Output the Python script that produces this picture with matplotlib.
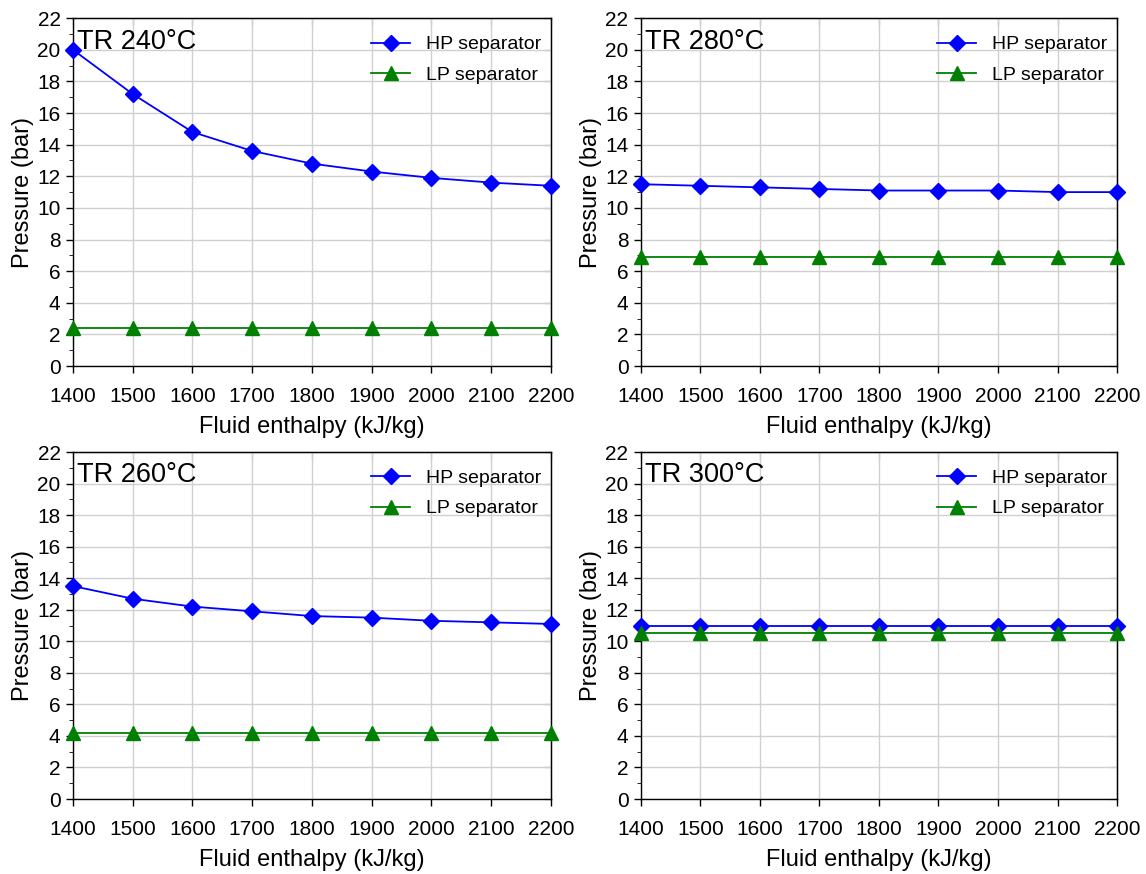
import numpy as np
import matplotlib.pyplot as plt
from matplotlib.ticker import MultipleLocator

plt.rcParams['font.family'] = ['Liberation Sans', 'DejaVu Sans']

# Данные
enthalpy = [1400, 1500, 1600, 1700, 1800, 1900, 2000, 2100, 2200]

hp_240 = [20.0, 17.2, 14.8, 13.6, 12.8, 12.3, 11.9, 11.6, 11.4]
lp_240 = [2.4, 2.4, 2.4, 2.4, 2.4, 2.4, 2.4, 2.4, 2.4]

hp_280 = [11.5, 11.4, 11.3, 11.2, 11.1, 11.1, 11.1, 11.0, 11.0]
lp_280 = [6.9, 6.9, 6.9, 6.9, 6.9, 6.9, 6.9, 6.9, 6.9]

hp_260 = [13.5, 12.7, 12.2, 11.9, 11.6, 11.5, 11.3, 11.2, 11.1]
lp_260 = [4.2, 4.2, 4.2, 4.2, 4.2, 4.2, 4.2, 4.2, 4.2]

hp_300 = [11.0, 11.0, 11.0, 11.0, 11.0, 11.0, 11.0, 11.0, 11.0]
lp_300 = [10.5, 10.5, 10.5, 10.5, 10.5, 10.5, 10.5, 10.5, 10.5]

panels = [
    ('TR 240°C', hp_240, lp_240, [0.0637, 0.5812, 0.4171, 0.398]),
    ('TR 280°C', hp_280, lp_280, [0.5593, 0.5812, 0.4154, 0.398]),
    ('TR 260°C', hp_260, lp_260, [0.0637, 0.0858, 0.4171, 0.397]),
    ('TR 300°C', hp_300, lp_300, [0.5593, 0.0858, 0.4154, 0.397]),
]

fig = plt.figure(figsize=(11.46, 8.74), dpi=100)

for title, hp, lp, rect in panels:
    ax = fig.add_axes(rect)
    ax.plot(enthalpy, hp, color='blue', marker='D', markersize=8, lw=1.3,
            label='HP separator', clip_on=False, zorder=3)
    ax.plot(enthalpy, lp, color='green', marker='^', markersize=10, lw=1.3,
            label='LP separator', clip_on=False, zorder=3)
    ax.set_xlim(1400, 2200)
    ax.set_ylim(0, 22)
    ax.xaxis.set_major_locator(MultipleLocator(100))
    ax.yaxis.set_major_locator(MultipleLocator(2))
    ax.yaxis.set_minor_locator(MultipleLocator(1))
    ax.grid(True, which='major', color='#d0d0d0', lw=1.0)
    ax.set_axisbelow(True)
    # снаружи слева/снизу
    ax.tick_params(axis='x', which='major', labelsize=15, direction='out',
                   length=5, width=1, pad=10)
    ax.tick_params(axis='y', which='major', labelsize=15, direction='out',
                   length=5, width=1, pad=4)
    ax.tick_params(axis='y', which='minor', direction='out', length=3,
                   right=False)
    # внутрь сверху/справа
    sec_x = ax.secondary_xaxis('top')
    sec_x.xaxis.set_major_locator(MultipleLocator(100))
    sec_x.tick_params(direction='in', length=5, labeltop=False)
    sec_y = ax.secondary_yaxis('right')
    sec_y.yaxis.set_major_locator(MultipleLocator(2))
    sec_y.tick_params(direction='in', length=5, labelright=False)
    ax.set_xlabel('Fluid enthalpy (kJ/kg)', fontsize=17, labelpad=7)
    ax.set_ylabel('Pressure (bar)', fontsize=17, labelpad=2)
    ax.text(0.008, 0.97, title, transform=ax.transAxes, fontsize=19.5,
            va='top', ha='left')
    ax.legend(loc='upper right', bbox_to_anchor=(0.995, 0.972),
              frameon=False, fontsize=14, handlelength=2.0,
              borderaxespad=0, labelspacing=0.65)
    for s in ax.spines.values():
        s.set_linewidth(1.0)

fig.savefig('out.png', dpi=100)
